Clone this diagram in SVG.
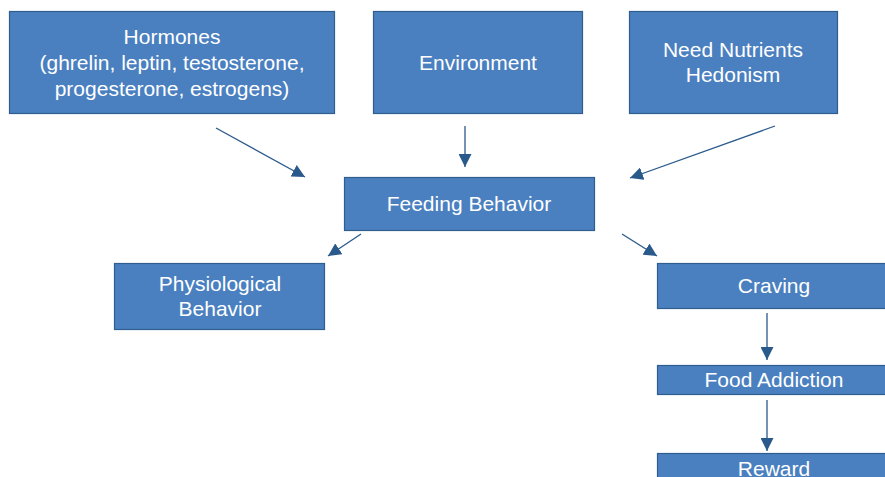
<svg xmlns="http://www.w3.org/2000/svg" width="885" height="477" viewBox="0 0 885 477">
<style>
.box{fill:#4a80bf;stroke:#2f5d8f;stroke-width:1.2}
.t{font-family:"Liberation Sans",Arial,sans-serif;font-size:21px;fill:#ffffff;text-anchor:middle}
.c{stroke:#2a5a8c;stroke-width:1.3;fill:none;marker-end:url(#ah)}
</style>
<defs>
<marker id="ah" viewBox="0 0 10 10" refX="10" refY="5" markerWidth="13" markerHeight="13" markerUnits="userSpaceOnUse" orient="auto">
<path d="M0,0 L10,5 L0,10 Z" fill="#2a5a8c"/>
</marker>
</defs>
<rect width="885" height="477" fill="#ffffff"/>
<g id="connectors">
<line class="c" x1="216" y1="128" x2="305" y2="177"/>
<line class="c" x1="465" y1="126" x2="465" y2="167"/>
<line class="c" x1="775" y1="126" x2="630" y2="178"/>
<line class="c" x1="361" y1="234" x2="328" y2="256"/>
<line class="c" x1="622" y1="234" x2="657" y2="256"/>
<line class="c" x1="767" y1="313" x2="767" y2="360"/>
<line class="c" x1="767" y1="400" x2="767" y2="451"/>
</g>
<g id="hormones">
<rect class="box" x="9.5" y="11.5" width="325" height="102"/>
<text class="t" x="172" y="44">Hormones</text>
<text class="t" x="172" y="70">(ghrelin, leptin, testosterone,</text>
<text class="t" x="172" y="96">progesterone, estrogens)</text>
</g>
<g id="environment">
<rect class="box" x="373.5" y="11.5" width="209" height="102"/>
<text class="t" x="478" y="70">Environment</text>
</g>
<g id="need">
<rect class="box" x="629.5" y="11.5" width="208" height="102"/>
<text class="t" x="733" y="57">Need Nutrients</text>
<text class="t" x="733" y="82">Hedonism</text>
</g>
<g id="feeding">
<rect class="box" x="344.5" y="177.5" width="250" height="53"/>
<text class="t" x="469" y="211">Feeding Behavior</text>
</g>
<g id="physiological">
<rect class="box" x="114.5" y="263.5" width="210" height="66"/>
<text class="t" x="220" y="291">Physiological</text>
<text class="t" x="220" y="316">Behavior</text>
</g>
<g id="craving">
<rect class="box" x="657.5" y="263.5" width="230" height="45"/>
<text class="t" x="774" y="293">Craving</text>
</g>
<g id="food">
<rect class="box" x="657.5" y="365.5" width="230" height="29"/>
<text class="t" x="774" y="387">Food Addiction</text>
</g>
<g id="reward">
<rect class="box" x="657.5" y="453.5" width="230" height="30"/>
<text class="t" x="774" y="476">Reward</text>
</g>
</svg>
